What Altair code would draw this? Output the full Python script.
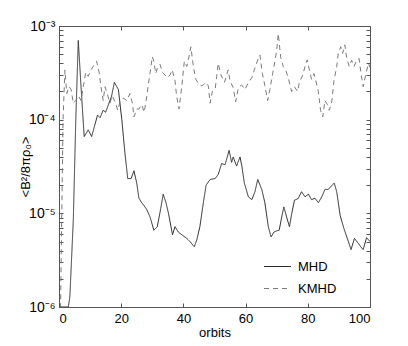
import altair as alt
import pandas as pd

# ---- data ----
mhd_orbit = [0, 3.0, 3.5, 4.6, 5.4, 6.2, 7.1, 8.1, 9.4, 10.5, 11.4, 12.4, 13.2, 14.2, 15.0, 15.9,
             16.9, 17.8, 19.1, 20.2, 21.2, 22.1, 23.2, 24.1, 25.0, 25.7, 26.6, 27.4, 28.2, 29.3,
             30.5, 31.6, 32.7, 33.5, 34.4, 35.2, 36.5, 37.3, 38.4, 39.5, 41.1, 42.1, 43.5, 44.3,
             45.3, 46.4, 47.3, 48.6, 50.2, 51.2, 52.3, 53.4, 54.7, 55.5, 56.0, 57.1, 58.2, 58.8,
             59.6, 60.9, 62.0, 63.0, 63.9, 65.2, 66.2, 67.3, 68.2, 69.1, 70.0, 70.8, 71.6, 72.3,
             73.2, 74.1, 74.8, 75.7, 76.9, 78.0, 79.1, 80.2, 81.2, 82.3, 83.4, 84.5, 85.5, 86.6,
             87.5, 88.5, 89.3, 90.4, 91.6, 92.7, 93.9, 95.0, 96.2, 97.0, 97.8, 98.9, 100]
mhd_value = [1.0e-6, 1.0e-6, 1.3e-6, 8.5e-6, 1.0e-4, 7.0e-4, 2.2e-4, 6.6e-5, 7.8e-5, 6.6e-5, 8.5e-5,
             1.12e-4, 1.05e-4, 1.26e-4, 1.2e-4, 1.45e-4, 1.78e-4, 2.5e-4, 2.1e-4, 1.0e-4, 4.4e-5,
             2.35e-5, 2.35e-5, 2.85e-5, 2.1e-5, 1.45e-5, 1.3e-5, 1.2e-5, 1.1e-5, 9.1e-6, 6.6e-6,
             7.2e-6, 1.12e-5, 1.6e-5, 1.3e-5, 1.0e-5, 5.9e-6, 7.2e-6, 6.3e-6, 5.9e-6, 5.4e-6,
             5.0e-6, 4.4e-6, 5.2e-6, 7.2e-6, 1.29e-5, 2.0e-5, 2.3e-5, 2.35e-5, 2.6e-5, 3.4e-5,
             3.3e-5, 4.7e-5, 3.5e-5, 4.0e-5, 3.2e-5, 4.0e-5, 3.2e-5, 2.1e-5, 1.5e-5, 1.4e-5,
             1.7e-5, 2.3e-5, 1.8e-5, 1.3e-5, 7.2e-6, 5.6e-6, 6.3e-6, 6.5e-6, 6.6e-6, 9.1e-6,
             1.17e-5, 9.1e-6, 7.2e-6, 9.8e-6, 1.38e-5, 1.44e-5, 1.7e-5, 1.5e-5, 1.6e-5, 1.4e-5,
             1.45e-5, 1.3e-5, 1.5e-5, 1.8e-5, 1.8e-5, 1.95e-5, 2.1e-5, 1.7e-5, 9.5e-6, 6.9e-6,
             5.4e-6, 4.1e-6, 5.4e-6, 4.8e-6, 4.4e-6, 4.1e-6, 5.5e-6, 5.0e-6]

kmhd_orbit = [0.0, 0.5, 0.9, 1.3, 1.9, 2.5, 3.2, 3.9, 4.6, 5.4, 6.2, 7.1, 7.8, 8.6, 9.4, 10.3, 11.0,
              12.1, 12.9, 13.5, 14.2, 14.8, 15.7, 16.4, 17.1, 18.0, 18.9, 19.6, 20.7, 21.8, 22.8,
              23.6, 24.1, 25.0, 25.7, 26.6, 27.4, 28.2, 28.7, 29.3, 30.0, 30.5, 31.1, 31.7, 32.5,
              33.2, 34.1, 34.8, 35.7, 36.4, 37.3, 37.8, 38.6, 39.5, 40.3, 41.1, 41.8, 42.4, 43.2,
              44.0, 44.8, 45.7, 46.4, 47.2, 48.0, 48.6, 49.3, 50.2, 50.7, 51.2, 52.1, 53.2, 54.4,
              55.0, 56.0, 56.8, 57.7, 58.7, 59.8, 60.9, 62.0, 62.8, 63.9, 64.6, 65.4, 66.2, 67.1,
              67.8, 68.7, 69.5, 70.0, 70.5, 71.3, 72.1, 72.9, 73.7, 74.8, 75.7, 76.7, 77.3, 78.4,
              79.1, 79.8, 80.5, 81.2, 82.0, 82.6, 83.4, 84.1, 84.8, 85.5, 86.3, 86.9, 87.7, 88.4,
              89.3, 89.8, 90.6, 91.2, 91.9, 92.5, 93.3, 94.1, 94.9, 95.7, 96.5, 97.1, 97.8, 98.7,
              99.5, 100]
kmhd_value = [5e-7, 1.0e-6, 1.0e-5, 1.0e-4, 3.4e-4, 1.9e-4, 2.25e-4, 2.1e-4, 1.5e-4, 1.6e-4, 1.8e-4,
              1.6e-4, 2.25e-4, 3.2e-4, 2.9e-4, 3.4e-4, 3.7e-4, 4.2e-4, 3.2e-4, 2.25e-4, 1.6e-4,
              2.25e-4, 1.8e-4, 1.5e-4, 1.8e-4, 1.55e-4, 1.26e-4, 1.55e-4, 1.7e-4, 1.6e-4, 1.9e-4,
              1.5e-4, 1.07e-4, 1.3e-4, 1.3e-4, 1.45e-4, 1.2e-4, 1.75e-4, 2.35e-4, 3.2e-4, 4.7e-4,
              4.2e-4, 3.1e-4, 3.6e-4, 3.9e-4, 3.2e-4, 3.0e-4, 2.8e-4, 3.0e-4, 3.4e-4, 2.6e-4,
              1.8e-4, 1.3e-4, 2.3e-4, 4.2e-4, 3.7e-4, 4.7e-4, 6.0e-4, 3.7e-4, 2.7e-4, 2.45e-4,
              2.3e-4, 2.35e-4, 2.5e-4, 2.3e-4, 1.5e-4, 2.0e-4, 2.1e-4, 2.9e-4, 4.0e-4, 3.0e-4,
              2.5e-4, 3.4e-4, 2.6e-4, 2.2e-4, 1.55e-4, 2.2e-4, 2.35e-4, 2.1e-4, 2.5e-4, 2.8e-4,
              3.4e-4, 4.35e-4, 4.9e-4, 3.1e-4, 2.3e-4, 1.6e-4, 2.1e-4, 3.1e-4, 4.35e-4, 5.5e-4,
              8.3e-4, 4.6e-4, 3.7e-4, 3.4e-4, 2.8e-4, 2.0e-4, 2.25e-4, 2.0e-4, 2.5e-4, 3.0e-4,
              3.7e-4, 4.35e-4, 3.4e-4, 2.7e-4, 3.1e-4, 2.6e-4, 2.0e-4, 1.26e-4, 1.07e-4, 1.6e-4,
              1.45e-4, 1.26e-4, 1.55e-4, 2.6e-4, 3.7e-4, 5.1e-4, 6.0e-4, 5.1e-4, 6.3e-4, 4.6e-4,
              3.7e-4, 4.3e-4, 3.7e-4, 4.3e-4, 4.5e-4, 3.1e-4, 2.25e-4, 3.1e-4, 4.0e-4, 3.6e-4]

series_names = ["MHD", "KMHD"]
x_ticks = [0, 20, 40, 60, 80, 100]
y_decades = [-6, -5, -4]
y_ticks = [m * 10.0 ** e for e in y_decades for m in range(1, 10)] + [1e-3]

df = pd.concat([
    pd.DataFrame({"orbits": mhd_orbit, "value": mhd_value, "run": series_names[0]}),
    pd.DataFrame({"orbits": kmhd_orbit, "value": kmhd_value, "run": series_names[1]}),
], ignore_index=True)

FONT = "Liberation Sans"
FRAME = "#555555"
xscale = alt.Scale(domain=[0, 100], nice=False, zero=False)
yscale = alt.Scale(type="log", domain=[1e-6, 1e-3], nice=False)

lg = "log(datum.value)/LN10"
label_expr = (
    f"abs({lg} - round({lg})) < 0.001 ? "
    f"(round({lg}) == -3 ? '10⁻³' : round({lg}) == -4 ? '10⁻⁴' : "
    f"round({lg}) == -5 ? '10⁻⁵' : '10⁻⁶') : ''"
)

lines = alt.Chart(df).mark_line(strokeWidth=1, clip=True).encode(
    x=alt.X("orbits:Q", scale=xscale,
            axis=alt.Axis(orient="bottom", values=x_ticks, tickSize=4, offset=-4, domain=False,
                          grid=False, tickColor=FRAME, labelPadding=5, labelFont=FONT,
                          labelFontSize=13, labelColor="black", title="orbits",
                          titleFont=FONT, titleFontSize=13, titleFontWeight="normal",
                          titleColor="black", titleBaseline="alphabetic", titleY=33)),
    y=alt.Y("value:Q", scale=yscale,
            axis=alt.Axis(orient="left", values=y_ticks, tickSize=4, offset=-4, domain=False,
                          grid=False, tickColor=FRAME, labelPadding=4, labelFont=FONT,
                          labelFontSize=14, labelColor="black", labelExpr=label_expr,
                          labelOverlap=False, labelFlush=False,
                          title="<B²/8πρ₀>", titleFont=FONT, titleFontSize=13,
                          titleFontWeight="normal", titleColor="black",
                          titleBaseline="alphabetic", titleX=-34, titleY=140.5,
                          titleAngle=270)),
    color=alt.Color("run:N", sort=series_names,
                    scale=alt.Scale(domain=series_names, range=["#2b2b2b", "#7a7a7a"]),
                    legend=alt.Legend(title=None, orient="none", legendX=204, legendY=226,
                                      symbolType="stroke", symbolSize=730, symbolStrokeWidth=1,
                                      symbolDash=[5, 4],
                                      labelFont=FONT, labelFontSize=13, labelColor="black",
                                      labelOffset=6, rowPadding=0, padding=0)),
    strokeDash=alt.StrokeDash("run:N", sort=series_names,
                              scale=alt.Scale(domain=series_names, range=[[1, 0], [5, 4]]),
                              legend=None),
    order=alt.Order("orbits:Q"),
)

frame_axes = alt.Chart(df).mark_line(opacity=0).encode(
    x=alt.X("orbits:Q", scale=xscale,
            axis=alt.Axis(orient="top", values=x_ticks, tickSize=4, offset=-4, domain=False,
                          grid=False, tickColor=FRAME, labels=False, title=None)),
    y=alt.Y("value:Q", scale=yscale,
            axis=alt.Axis(orient="right", values=y_ticks, tickSize=4, offset=-4, domain=False,
                          grid=False, tickColor=FRAME, labels=False, title=None)),
    detail="run:N",
)

chart = (
    alt.layer(lines, frame_axes)
    .resolve_axis(x="independent", y="independent")
    .properties(width=311, height=281, autosize=alt.AutoSizeParams(type="none"),
                padding={"left": 51, "top": 18, "right": 30, "bottom": 40},
                background="white")
    .configure_view(stroke=FRAME, strokeWidth=1)
)

chart.save("out.html", embed_options={"renderer": "svg", "actions": False})
